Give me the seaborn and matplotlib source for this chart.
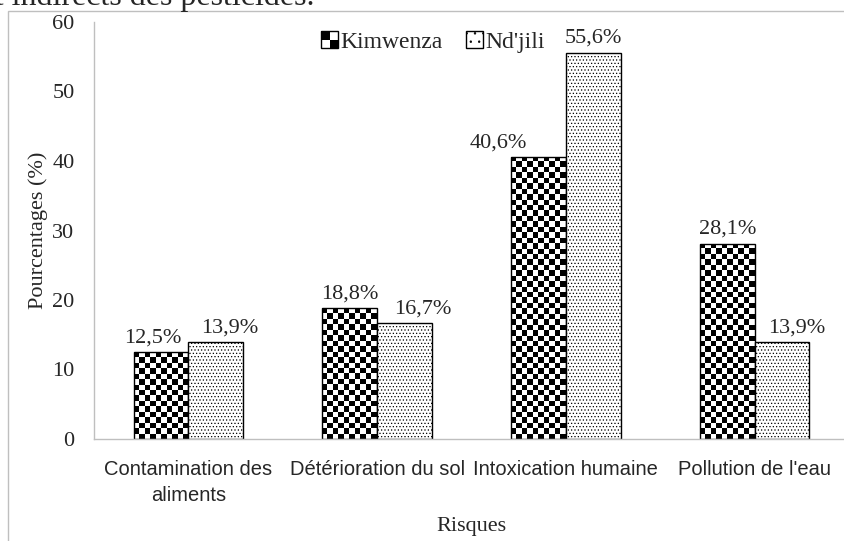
import numpy as np
import pandas as pd
import matplotlib
matplotlib.use("Agg")
import matplotlib.pyplot as plt
import seaborn as sns
from matplotlib.patches import Rectangle
from matplotlib.legend_handler import HandlerBase

# data
risques = ["Contamination des\naliments", "Détérioration du sol",
           "Intoxication humaine", "Pollution de l'eau"]
sites = ["Kimwenza", "Nd'jili"]
kimwenza = [12.5, 18.8, 40.6, 28.1]
ndjili = [13.9, 16.7, 55.6, 13.9]

df = pd.DataFrame({
    "Risque": risques * 2,
    "Site": [sites[0]] * len(risques) + [sites[1]] * len(risques),
    "Pourcentage": kimwenza + ndjili,
})

# horizontal nudges (px) of the value labels, as placed in the original
label_dx = {sites[0]: [-8, 0, -40, 0], sites[1]: [14, 18, 0, 15]}

sns.set_style("white")
plt.rcParams["font.family"] = ["Liberation Serif", "DejaVu Serif"]
plt.rcParams["hatch.linewidth"] = 0.5
grey = "#bfbfbf"
sans = ["Liberation Sans", "DejaVu Sans"]

fig = plt.figure(figsize=(8.44, 5.41), dpi=100)
ax = fig.add_axes([94 / 844, 102 / 541, 755 / 844, 417 / 541])

sns.barplot(data=df, x="Risque", y="Pourcentage", hue="Site", hue_order=sites,
            palette=["white", "white"], saturation=1, width=0.58, gap=0,
            edgecolor="black", linewidth=1, legend=False, ax=ax)

ax.set_xlim(-0.5, len(risques) - 0.5)
ax.set_ylim(0, 60)
ax.set_yticks(range(0, 61, 10))

# checkerboard fill for Kimwenza, clipped to each bar
cell = 5.4
for bar in ax.containers[0]:
    x0, w, h = bar.get_x(), bar.get_width(), bar.get_height()
    (px0, py0), (px1, py1) = ax.transData.transform([(x0, 0), (x0 + w, h)])
    nx = max(1, round((px1 - px0) / cell))
    ny = max(1, round((py1 - py0) / cell))
    board = np.indices((ny, nx)).sum(axis=0) % 2
    im = ax.imshow(board, cmap="gray", extent=(x0, x0 + w, 0, h), origin="upper",
                   aspect="auto", interpolation="nearest", zorder=bar.get_zorder() - 0.1)
    im.set_clip_path(bar)
    bar.set_facecolor("none")

# dotted fill for Nd'jili
for bar in ax.containers[1]:
    bar.set_hatch(".....")

ax.set_xlim(-0.5, len(risques) - 0.5)
ax.set_ylim(0, 60)

# value labels
for cont, site in zip(ax.containers, sites):
    for bar, dx in zip(cont, label_dx[site]):
        v = bar.get_height()
        ax.annotate(f"{v:.1f}%".replace(".", ","),
                    xy=(bar.get_x() + bar.get_width() / 2, v),
                    xytext=(dx * 72 / 100, 7), textcoords="offset points",
                    ha="center", va="baseline", fontsize=16)

# axes styling
sns.despine(ax=ax)
for side in ["left", "bottom"]:
    ax.spines[side].set_color(grey)
    ax.spines[side].set_linewidth(1)
ax.tick_params(axis="y", direction="out", length=5, color=grey, labelsize=16, pad=9)
ax.set_xticks(range(len(risques)))
ax.set_xticklabels(risques, fontsize=14.5, family=sans, linespacing=1.45)
ax.tick_params(axis="x", which="major", length=0, pad=15)
ax.set_xticks(np.arange(-0.5, len(risques), 1), minor=True)
ax.tick_params(axis="x", which="minor", direction="out", length=6, color=grey)
ax.set_xlabel("Risques", fontsize=16, labelpad=9)
ax.set_ylabel("Pourcentages (%)", fontsize=16, labelpad=3)


# legend with small checker / dotted squares
class CheckerHandler(HandlerBase):
    def create_artists(self, legend, orig_handle, xdescent, ydescent,
                       width, height, fontsize, trans):
        s = height
        x0 = -xdescent + (width - s) / 2
        y0 = -ydescent
        out = []
        for i in range(2):
            for j in range(2):
                out.append(Rectangle((x0 + i * s / 2, y0 + j * s / 2), s / 2, s / 2,
                                     facecolor="black" if (i + j) % 2 == 1 else "white",
                                     edgecolor="none", transform=trans))
        out.append(Rectangle((x0, y0), s, s, facecolor="none",
                             edgecolor="black", linewidth=1, transform=trans))
        return out


class DotHandler(HandlerBase):
    def create_artists(self, legend, orig_handle, xdescent, ydescent,
                       width, height, fontsize, trans):
        s = height
        x0 = -xdescent + (width - s) / 2
        y0 = -ydescent
        return [Rectangle((x0, y0), s, s, facecolor="white", edgecolor="black",
                          linewidth=1, hatch="..", transform=trans)]


h1, h2 = Rectangle((0, 0), 1, 1), Rectangle((0, 0), 1, 1)
ax.legend([h1, h2], sites, handler_map={h1: CheckerHandler(), h2: DotHandler()},
          loc="center", bbox_to_anchor=(0.449, 0.952), ncol=2, frameon=False,
          fontsize=17, handlelength=0.7, handleheight=0.7, handletextpad=0.1,
          columnspacing=1.0, borderpad=0)

# chart frame and the cut-off caption above it
fig.patches.append(Rectangle((8 / 844, -0.1), 1.2, (541 - 11) / 541 + 0.1,
                             transform=fig.transFigure, facecolor="none",
                             edgecolor=grey, linewidth=1))
fig.text(315 / 844, (541 - 5) / 541, "Risques directs et indirects des pesticides.",
         ha="right", va="baseline", fontsize=23)

fig.savefig("out.png", dpi=100)
